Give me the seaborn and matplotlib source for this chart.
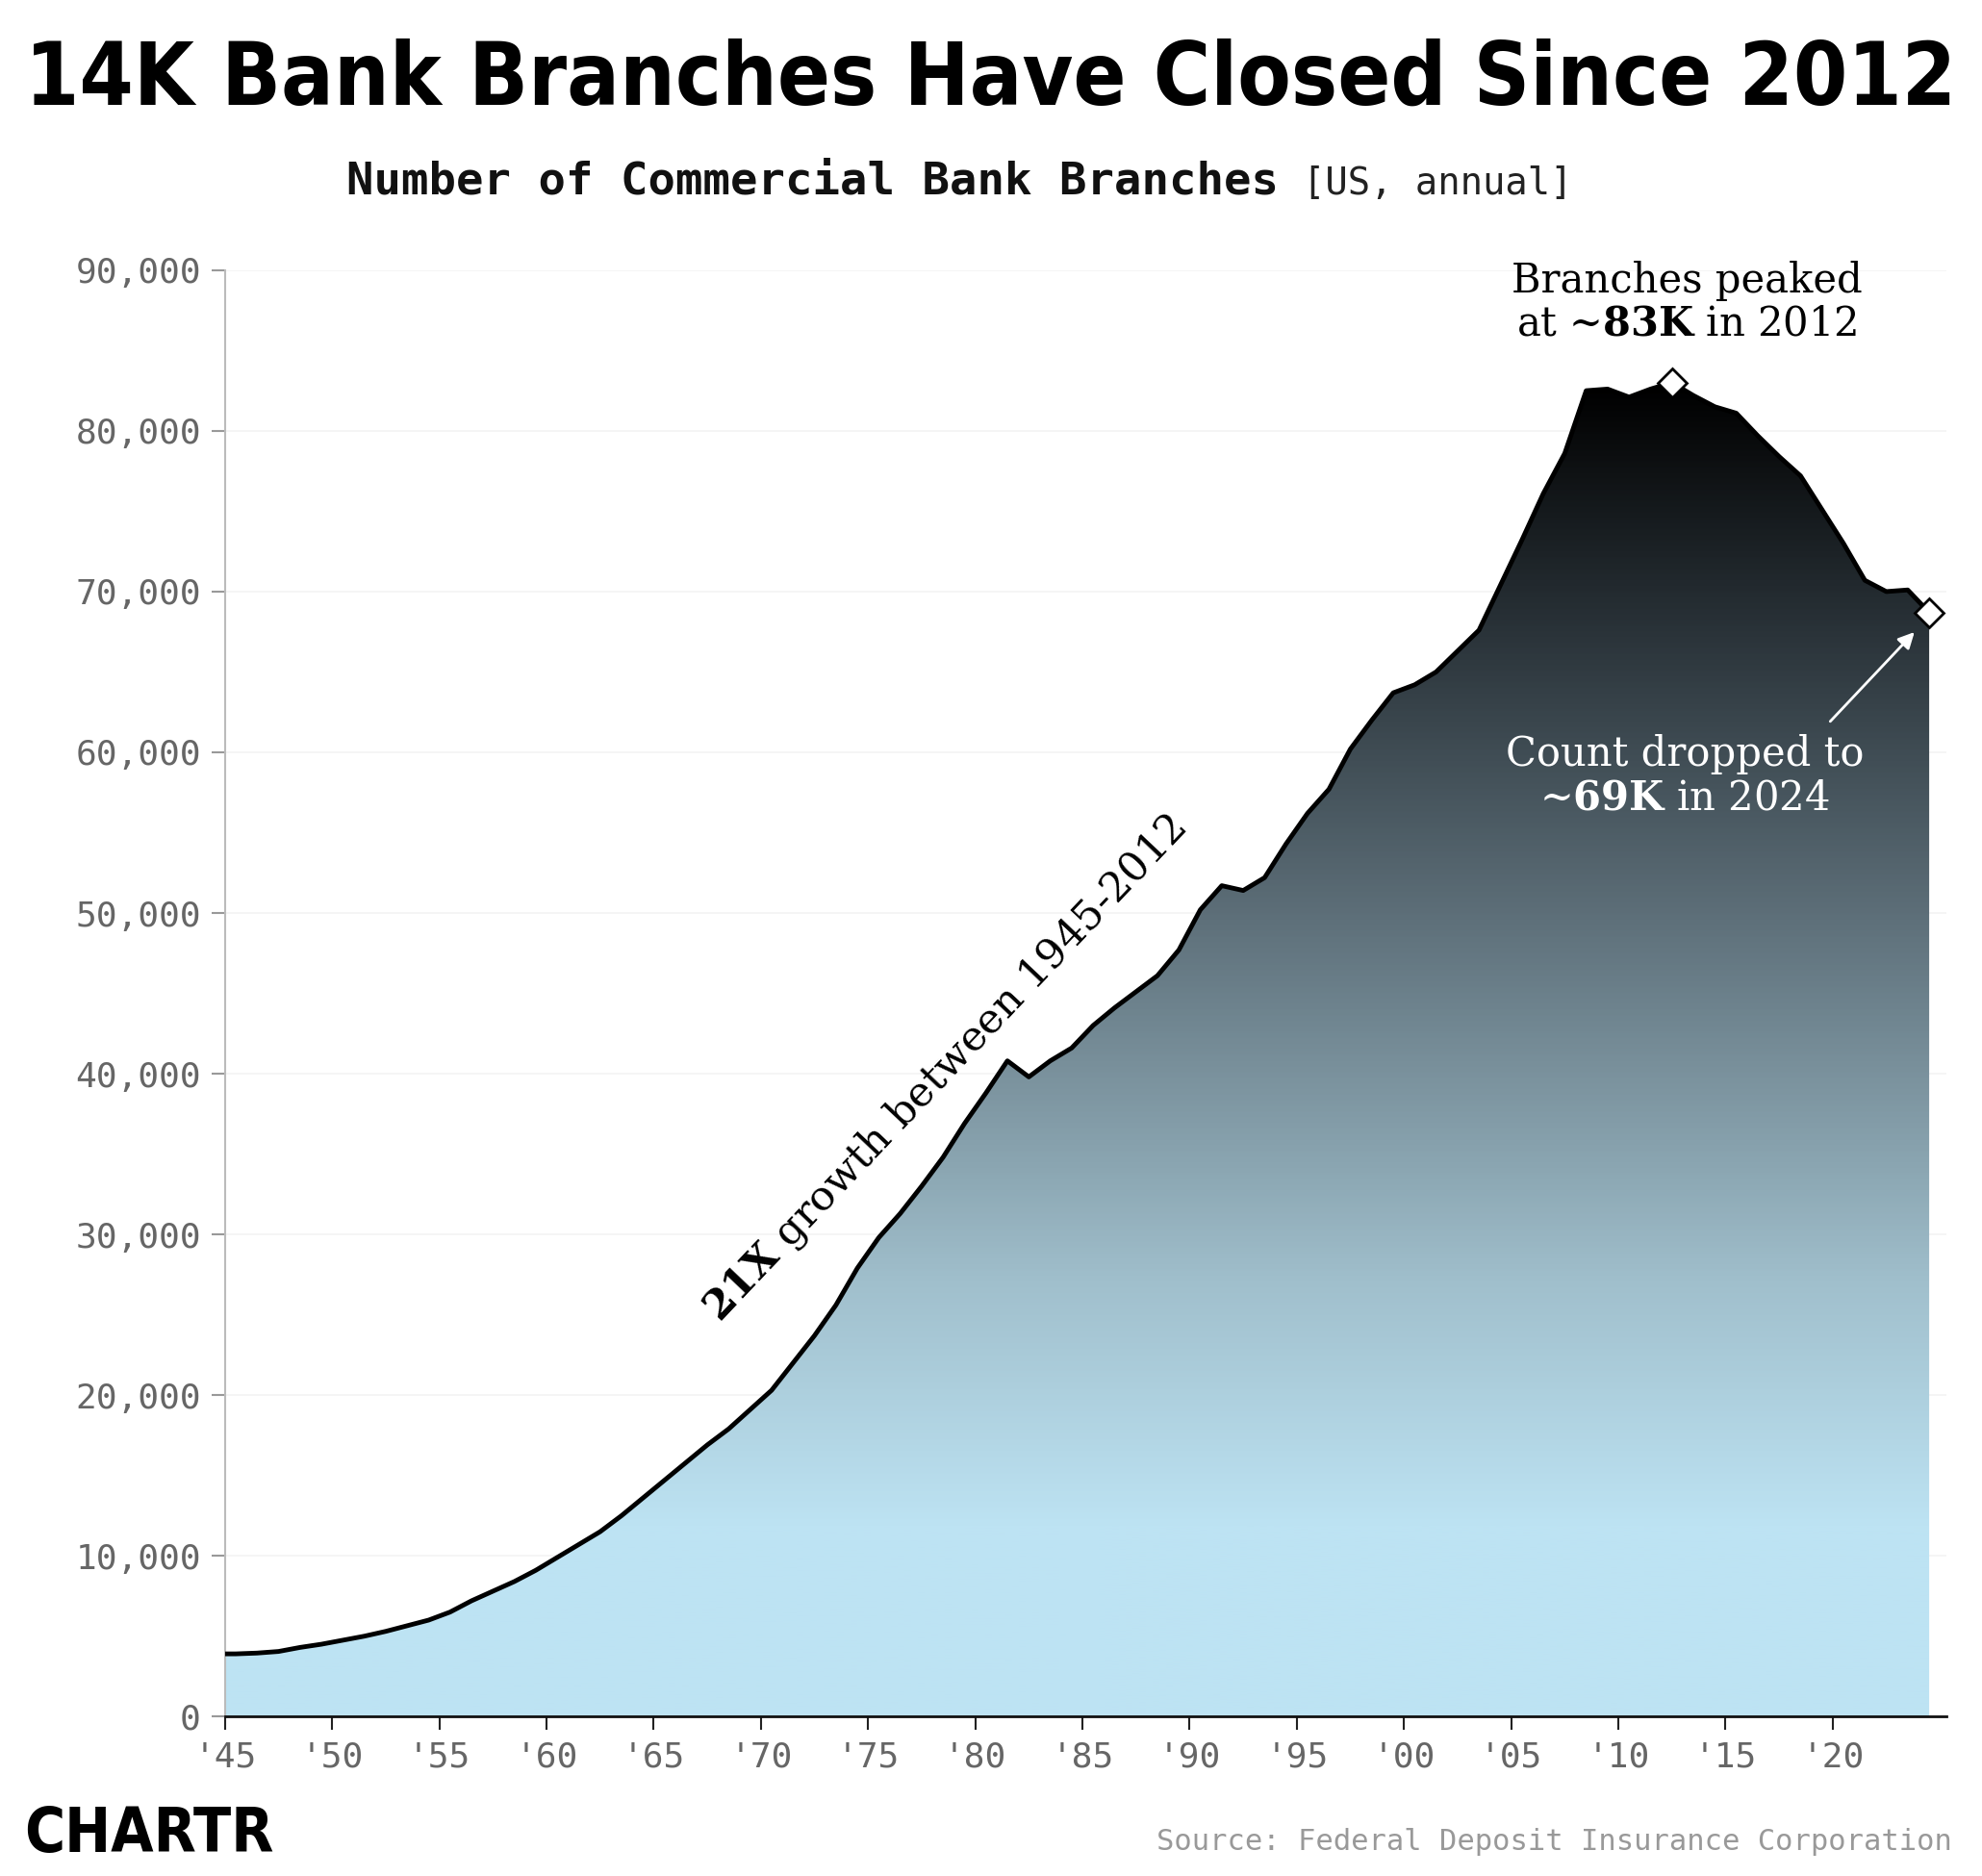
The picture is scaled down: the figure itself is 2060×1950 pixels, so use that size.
import numpy as np
import matplotlib
matplotlib.use("Agg")
import matplotlib.pyplot as plt
import seaborn as sns
from matplotlib.colors import LinearSegmentedColormap
from matplotlib.patches import Polygon

years = list(range(1945, 2025))
branches = [3900, 3950, 4050, 4300, 4500, 4750, 5000, 5300, 5650, 6000,
            6500, 7200, 7800, 8400, 9100, 9900, 10700, 11500, 12500, 13600,
            14700, 15800, 16900, 17900, 19100, 20300, 22000, 23700, 25600, 27900,
            29800, 31300, 33000, 34800, 36900, 38800, 40800, 39800, 40800, 41600,
            43000, 44100, 45100, 46100, 47700, 50200, 51700, 51400, 52200, 54300,
            56200, 57700, 60200, 62000, 63700, 64200, 65000, 66300, 67600, 70400,
            73200, 76100, 78600, 82500, 82600, 82100, 82600, 83000, 82200, 81500,
            81100, 79700, 78400, 77200, 75100, 73000, 70700, 70000, 70100, 68700]
xticks = list(range(1945, 2025, 5))
xticklabels = ["'45", "'50", "'55", "'60", "'65", "'70", "'75", "'80", "'85", "'90",
               "'95", "'00", "'05", "'10", "'15", "'20"]
yticks = list(range(0, 90001, 10000))

sns.set_theme(style="white")
plt.rcParams['font.family'] = ['DejaVu Sans']
plt.rcParams['mathtext.fontset'] = 'custom'
plt.rcParams['mathtext.bf'] = 'DejaVu Serif:bold'
plt.rcParams['mathtext.rm'] = 'DejaVu Serif'

fig = plt.figure(figsize=(20.6, 19.5), dpi=100)
ax = fig.add_axes([0.1135, 0.085, 0.8685, 0.771])
x = np.array(years) + 0.5
y = np.array(branches)
ax.set_xlim(1945, 2025.3)
ax.set_ylim(0, 90000)

cmap = LinearSegmentedColormap.from_list("g", [(0, "#bde3f3"), (0.13, "#bde3f3"), (0.3, "#a0bfcc"),
                                               (0.55, "#5e707a"), (0.75, "#2a3339"), (0.92, "#000000"), (1, "#000000")])
grad = np.linspace(0, 1, 512).reshape(-1, 1)
im = ax.imshow(grad, cmap=cmap, aspect='auto', origin='lower',
               extent=[1945, 2025.3, 0, 90000], zorder=1)
xs = np.concatenate([[1945], x, [x[-1]], [1945]])
ys = np.concatenate([[y[0]], y, [0], [0]])
poly = Polygon(np.column_stack([xs, ys]), closed=True, facecolor='none', edgecolor='none')
ax.add_patch(poly)
im.set_clip_path(poly)
sns.lineplot(x=np.concatenate([[1945], x]), y=np.concatenate([[y[0]], y]), ax=ax,
             color='black', lw=3.5, zorder=3)

for yy in yticks[1:]:
    ax.axhline(yy, color='#f3f3f3', lw=1.2, zorder=0)

ax.plot([2012.5], [83000], marker='D', ms=15, mfc='white', mec='black', mew=2, zorder=5)
ax.plot([2024.5], [68700], marker='D', ms=15, mfc='white', mec='black', mew=2, zorder=5)

ax.set_xticks(xticks)
ax.set_xticklabels(xticklabels)
ax.set_yticks(yticks)
ax.set_yticklabels([f"{v:,}" for v in yticks])
for lab in ax.get_xticklabels() + ax.get_yticklabels():
    lab.set_fontfamily('DejaVu Sans Mono')
    lab.set_fontsize(26)
    lab.set_color('#666666')
ax.tick_params(axis='both', which='both', length=10, width=1.5, direction='out',
               bottom=True, left=True, pad=8)
ax.tick_params(axis='y', colors='#999999', labelcolor='#666666')
ax.tick_params(axis='x', colors='#222222', labelcolor='#666666')
for s in ['top', 'right']:
    ax.spines[s].set_visible(False)
ax.spines['left'].set_color('#bbbbbb')
ax.spines['left'].set_linewidth(1.5)
ax.spines['bottom'].set_color('#111111')
ax.spines['bottom'].set_linewidth(2)
ax.set_xlabel('')
ax.set_ylabel('')

ax.text(1978.6, 40300, r"$\mathbf{21X}$ growth between 1945-2012", rotation=46.5,
        ha='center', va='center', fontsize=31, family='DejaVu Serif', color='black',
        rotation_mode='anchor', zorder=6)
ax.text(2013.2, 88000, "Branches peaked\nat ~$\\mathbf{83K}$ in 2012", ha='center', va='center',
        fontsize=30, family='DejaVu Serif', color='black', linespacing=1.1)
ax.text(2013.1, 58500, "Count dropped to\n~$\\mathbf{69K}$ in 2024", ha='center', va='center',
        fontsize=30, family='DejaVu Serif', color='white', linespacing=1.1, zorder=6)
ax.annotate("", xy=(2023.9, 67600), xytext=(2019.8, 61800),
            arrowprops=dict(arrowstyle='-|>', color='white', lw=2, mutation_scale=25), zorder=6)

fig.text(0.5, 0.957, "14K Bank Branches Have Closed Since 2012", ha='center', va='center',
         fontsize=65, fontweight='heavy', fontstretch='condensed', family='DejaVu Sans',
         color='black')
t1 = fig.text(0.175, 0.903, "Number of Commercial Bank Branches", ha='left', va='center',
              fontsize=34, fontweight='bold', family='DejaVu Sans Mono', color='#111111')
fig.canvas.draw()
bb = t1.get_window_extent()
fig.text((bb.x1 + 25) / fig.bbox.width, 0.902, "[US, annual]", ha='left', va='center',
         fontsize=28, family='DejaVu Sans Mono', color='#222222')
fig.text(0.012, 0.022, "CHARTR", ha='left', va='center', fontsize=46, fontweight='heavy',
         fontstretch='condensed', family='DejaVu Sans', color='black')
fig.text(0.985, 0.018, "Source: Federal Deposit Insurance Corporation", ha='right', va='center',
         fontsize=22, family='DejaVu Sans Mono', color='#999999')

fig.savefig("out.png", dpi=100, facecolor='white')
